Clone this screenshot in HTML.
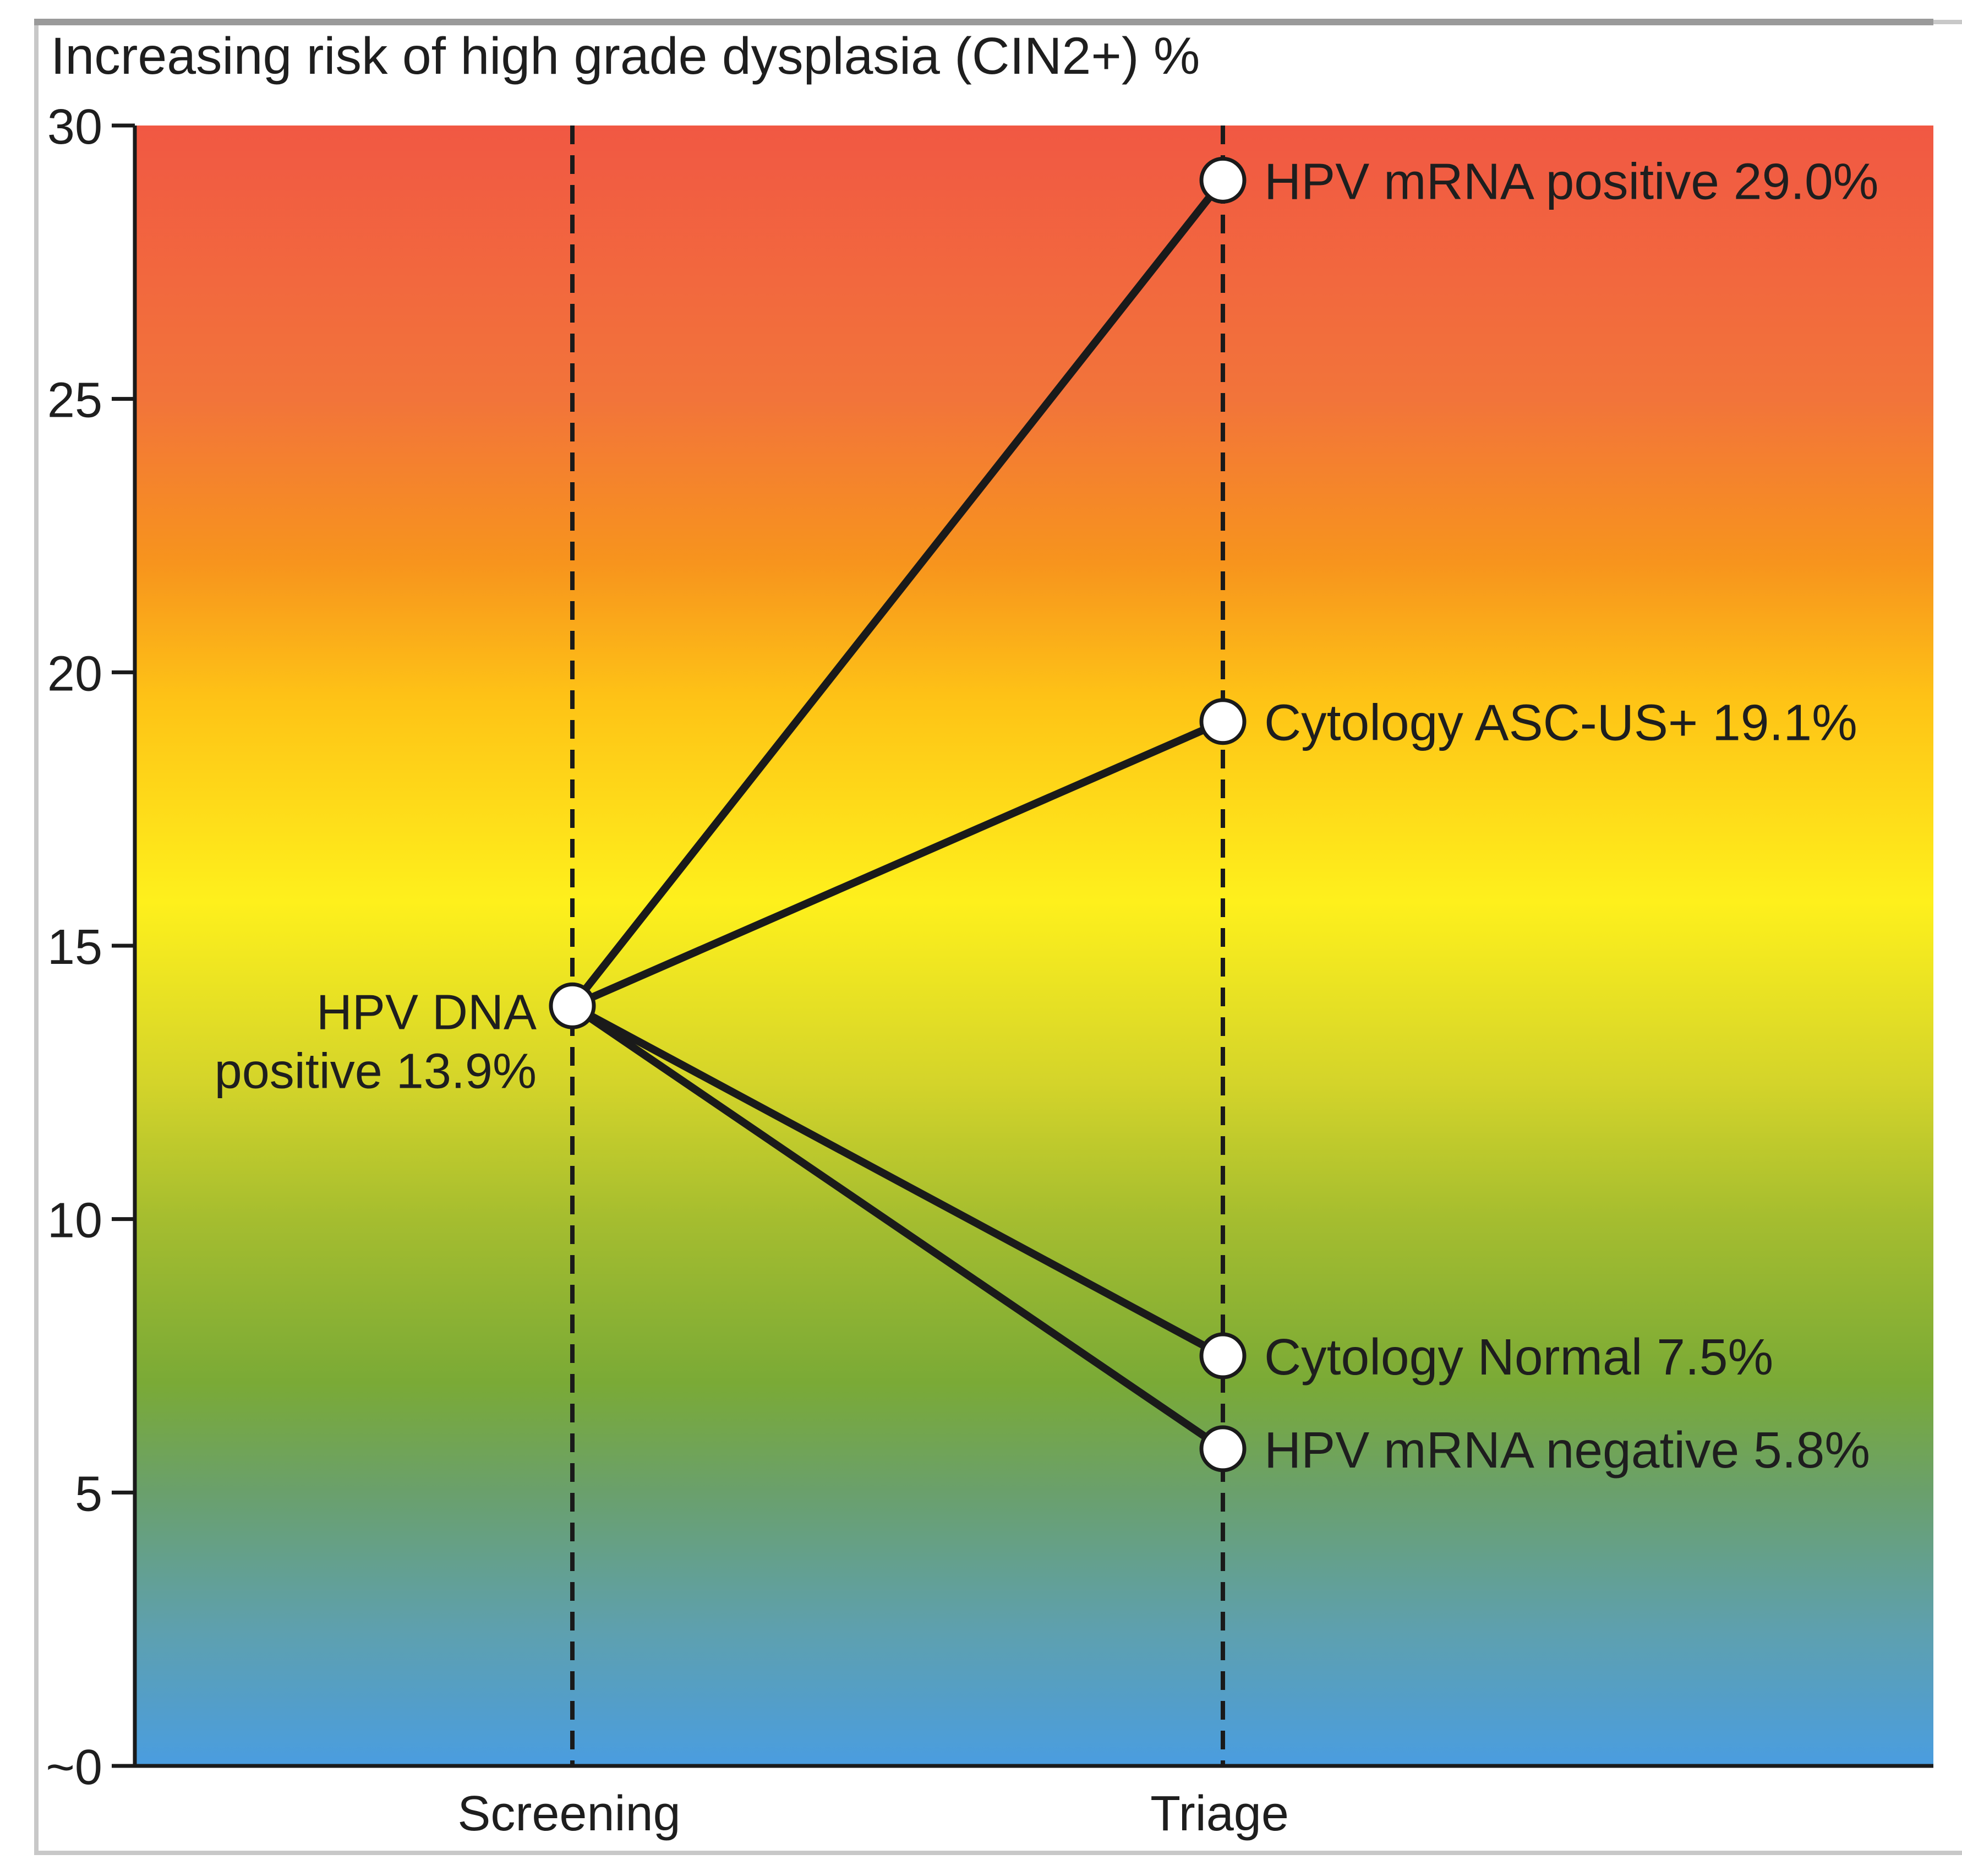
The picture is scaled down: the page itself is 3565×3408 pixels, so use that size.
<!DOCTYPE html>
<html><head><meta charset="utf-8"><style>
html,body{margin:0;padding:0;background:#fff;}
svg{display:block;}
text{font-family:"Liberation Sans",Arial,sans-serif;fill:#1e1e1e;}
</style></head><body>
<svg id="chart" width="3565" height="3408" viewBox="0 0 3565 3408" xmlns="http://www.w3.org/2000/svg">
<defs>
<linearGradient id="riskGrad" x1="0" y1="0" x2="0" y2="1"></linearGradient>
</defs>
<rect x="66" y="40" width="3600" height="3326" fill="none" stroke="#c8c8c8" stroke-width="8"/>
<line x1="62" y1="40" x2="3513" y2="40" stroke="#9a9a9a" stroke-width="12"/>
<text x="92" y="134" font-size="95">Increasing risk of high grade dysplasia (CIN2+) %</text>
<g id="plot"></g>
</svg>
<script>
const yTicks = [0, 5, 10, 15, 20, 25, 30];
const yTickLabels = ["~0", "5", "10", "15", "20", "25", "30"];
const stages = ["Screening", "Triage"];
const originLabel = ["HPV DNA", "positive 13.9%"];
const originValue = 13.9;
const triageLabels = ["HPV mRNA positive 29.0%", "Cytology ASC-US+ 19.1%", "Cytology Normal 7.5%", "HPV mRNA negative 5.8%"];
const triageValues = [29.0, 19.1, 7.5, 5.8];
const gradValues = [30, 25, 22, 19.5, 15.8, 12.5, 10, 7, 5, 2.5, 0];
const gradColors = ["#f15843", "#f2743a", "#f7941d", "#fec316", "#fef01c", "#d4d42a", "#a5bd2f", "#7aaa36", "#6aa06c", "#5ea0ae", "#4a9de0"];

const NS = "http://www.w3.org/2000/svg";
const L = 245, R = 3513, T = 228, B = 3208;
const yMax = 30, yMin = 0;
function y(v){ return B - (v - yMin) / (yMax - yMin) * (B - T); }
const stageX = [1040, 2222];
function x(i){ return stageX[i]; }
function mk(tag, attrs, parent){ const e = document.createElementNS(NS, tag); for (const k in attrs) e.setAttribute(k, attrs[k]); parent.appendChild(e); return e; }

const grad = document.getElementById('riskGrad');
gradValues.forEach((v, i) => {
  mk('stop', {offset: ((yMax - v) / (yMax - yMin)).toFixed(4), 'stop-color': gradColors[i]}, grad);
});
const g = document.getElementById('plot');
const bg = mk('rect', {x: L, y: T, width: R - L, height: B - T, fill: 'url(#riskGrad)'}, g);



stages.forEach((s, i) => {
  const dl = mk('line', {x1: x(i), y1: T, x2: x(i), y2: B, stroke: '#1a1a1a', 'stroke-width': 8, 'stroke-dasharray': '34 20'}, g);
  
  
  const t = mk('text', {x: x(i) - 6, y: 3325, 'font-size': 90, 'text-anchor': 'middle'}, g);
  t.textContent = s;
  
  
});

const ax = mk('path', {d: `M${L},${T} L${L},${B} L${R},${B}`, fill: 'none', stroke: '#1a1a1a', 'stroke-width': 7}, g);



yTicks.forEach((v, i) => {
  const tk = mk('line', {x1: 203, y1: y(v), x2: L, y2: y(v), stroke: '#1a1a1a', 'stroke-width': 7}, g);
  
  
  const t = mk('text', {x: 186, y: y(v) + 33, 'font-size': 90, 'text-anchor': 'end'}, g);
  t.textContent = yTickLabels[i];
  
  
});

triageValues.forEach((v, i) => {
  const ln = mk('line', {x1: x(0), y1: y(originValue), x2: x(1), y2: y(v), stroke: '#1a1a1a', 'stroke-width': 14, 'stroke-linecap': 'round'}, g);
  
  
});
triageValues.forEach((v, i) => {
  const c = mk('circle', {cx: x(1), cy: y(v), r: 39, fill: '#fff', stroke: '#1a1a1a', 'stroke-width': 7}, g);
  
  
  const t = mk('text', {x: x(1) + 75, y: y(v) + 34, 'font-size': 93}, g);
  t.textContent = triageLabels[i];
  
  
});
const oc = mk('circle', {cx: x(0), cy: y(originValue), r: 39, fill: '#fff', stroke: '#1a1a1a', 'stroke-width': 7}, g);


originLabel.forEach((s, i) => {
  const t = mk('text', {x: 975, y: y(originValue) + 42 + i * 107, 'font-size': 90, 'text-anchor': 'end'}, g);
  t.textContent = s;
  
  
});
</script>
</body></html>
